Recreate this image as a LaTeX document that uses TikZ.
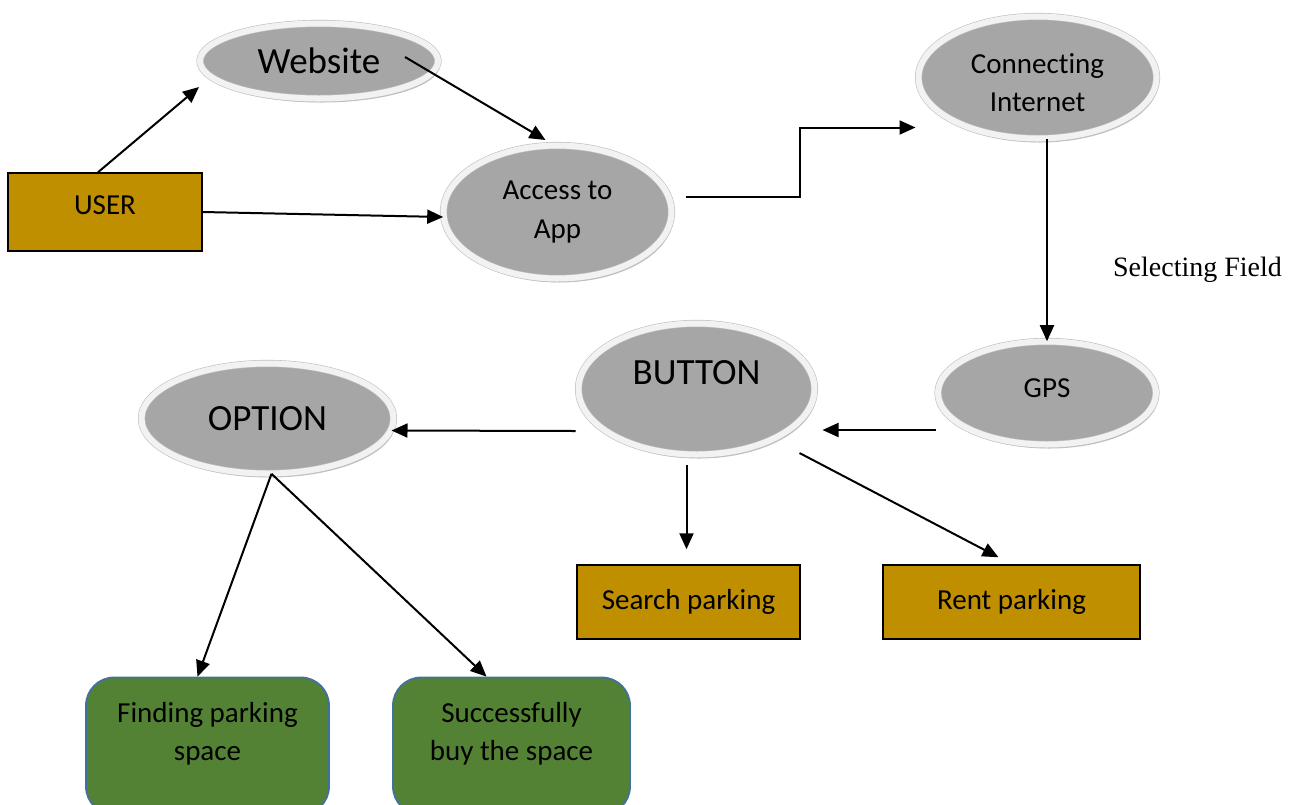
\documentclass[tikz,border=0pt]{standalone}
\usepackage{fontspec}
\setmainfont[RawFeature=-liga]{Carlito}
\newfontfamily\seriffont{Liberation Serif}
\usetikzlibrary{shapes.geometric,shadows,arrows.meta}
\pgfdeclarelayer{edgelayer}
\pgfdeclarelayer{nodelayer}
\pgfsetlayers{nodelayer,edgelayer,main}
\definecolor{ovalgray}{HTML}{A6A6A6}
\definecolor{rimgray}{HTML}{BFBFBF}
\definecolor{rimwhite}{HTML}{F2F2F2}
\definecolor{boxgold}{HTML}{BF8F00}
\definecolor{boxgreen}{HTML}{548235}
\definecolor{boxblue}{HTML}{41719C}
\tikzstyle{bigtext}=[font=\fontsize{37}{42}\selectfont]
\tikzstyle{smalltext}=[font=\fontsize{29}{38.5}\selectfont, align=center]
\tikzstyle{oval}=[ellipse, inner sep=0pt, fill=ovalgray, draw=rimgray, line width=0.6pt, double=rimwhite, double distance=6pt, drop shadow={shadow xshift=2pt, shadow yshift=-4pt, fill=gray!70, opacity=0.7}]
\tikzstyle{goldbox}=[rectangle, fill=boxgold, draw=black, line width=1.5pt, smalltext]
\tikzstyle{greenbox}=[rectangle, rounded corners=28pt, fill=boxgreen, draw=boxblue, line width=1.8pt]
\tikzstyle{arrow}=[draw=black, line width=2pt, -{Triangle[length=16pt,width=14pt]}]

\begin{document}
\begin{tikzpicture}[x=1pt, y=-1pt]
	\useasboundingbox (0, 0) rectangle (1303, 804);
	\begin{pgfonlayer}{nodelayer}
		\node [style=oval, style=bigtext, minimum width=238pt, minimum height=75pt] (website) at (319, 61) {Website};
		\node [style=goldbox, minimum width=194pt, minimum height=78pt, label={[smalltext, yshift=7pt]center:USER}] (user) at (105, 212) {};
		\node [style=oval, style=smalltext, minimum width=228pt, minimum height=133pt] (access) at (557.5, 212) {Access to\\App};
		\node [style=oval, minimum width=238pt, minimum height=122pt, label={[smalltext, yshift=-5pt]center:Connecting\\Internet}] (internet) at (1037.5, 77.5) {};
		\node [style=oval, minimum width=218pt, minimum height=103pt, label={[smalltext, yshift=5pt]center:GPS}] (gps) at (1047, 393) {};
		\node [style=oval, minimum width=236pt, minimum height=131pt, label={[bigtext, yshift=16pt]center:BUTTON}] (button) at (696.5, 389) {};
		\node [style=oval, style=bigtext, minimum width=252pt, minimum height=110pt] (option) at (267.5, 418.5) {OPTION};
		\node [style=goldbox, minimum width=223pt, minimum height=74pt] (search) at (688.5, 602) {Search parking};
		\node [style=goldbox, minimum width=257pt, minimum height=74pt] (rent) at (1011.5, 602) {Rent parking};
		\node [style=greenbox, minimum width=243pt, minimum height=137pt, label={[smalltext, yshift=12pt]center:Finding parking\\space}] (finding) at (207.5, 746) {};
		\node [style=greenbox, minimum width=237pt, minimum height=137pt, label={[smalltext, yshift=12pt]center:Successfully\\buy the space}] (buy) at (511.5, 746) {};
		\node [font=\seriffont\fontsize{28}{34}\selectfont] (field) at (1197.5, 270) {Selecting Field};
	\end{pgfonlayer}
	\begin{pgfonlayer}{edgelayer}
		\draw [style=arrow] ([xshift=-7pt]user.north) to ([xshift=-120pt, yshift=-26pt]website.center);
		\draw [style=arrow] ([xshift=86pt, yshift=4pt]website.center) to ([xshift=-12pt, yshift=72pt]access.center);
		\draw [style=arrow] (user.east) to ([yshift=-5pt]access.west);
		\draw [style=arrow] ([xshift=128pt, yshift=15pt]access.center) -- ++(114, 0) |- ([xshift=-122pt, yshift=-50pt]internet.center);
		\draw [style=arrow] (gps.north |- internet.south) to (gps.north);
		\draw [style=arrow] ([xshift=-111pt, yshift=-37pt]gps.center) to ([xshift=126pt, yshift=-41pt]button.center);
		\draw [style=arrow] ([xshift=-121pt, yshift=-42pt]button.center) to ([xshift=124pt, yshift=-12pt]option.center);
		\draw [style=arrow] ([xshift=-10pt, yshift=-76pt]button.center) to ([xshift=-2pt, yshift=15pt]search.north);
		\draw [style=arrow] ([xshift=103pt, yshift=-64pt]button.center) to ([xshift=-13pt, yshift=7pt]rent.north);
		\draw [style=arrow] ([xshift=4pt]option.south) to ([xshift=-10pt]finding.north);
		\draw [style=arrow] ([xshift=4pt]option.south) to ([xshift=-25pt]buy.north);
	\end{pgfonlayer}
\end{tikzpicture}
\end{document}
